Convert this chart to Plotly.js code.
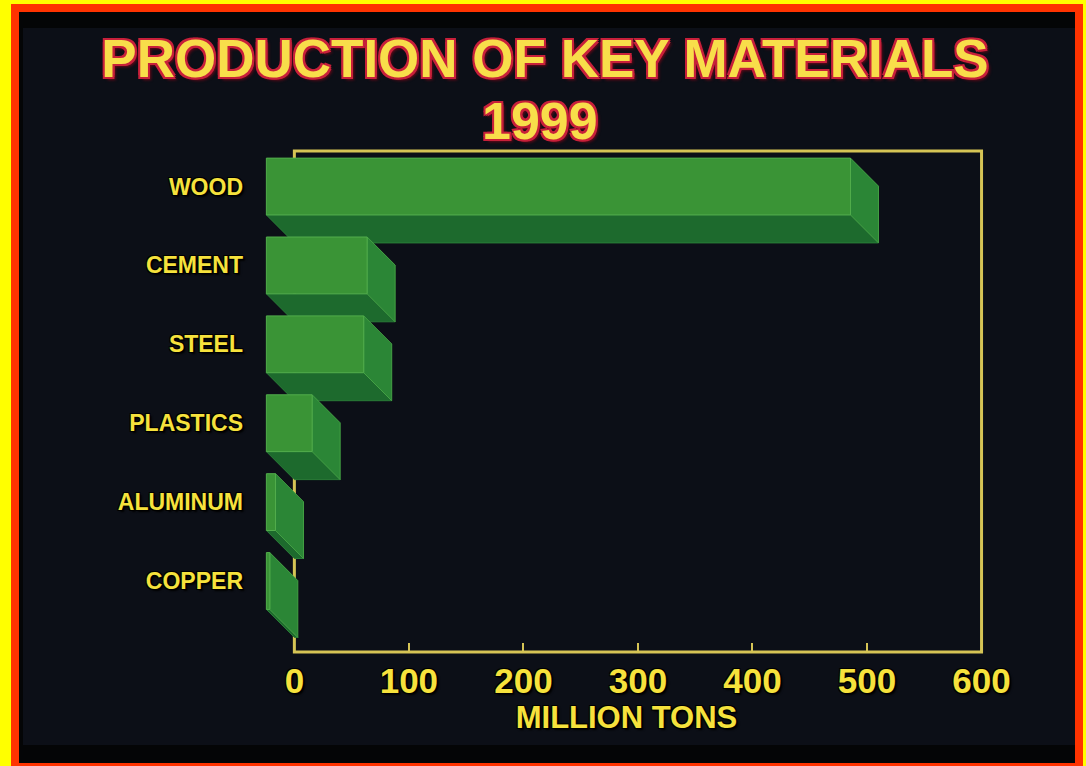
<!DOCTYPE html>
<html><head><meta charset="utf-8">
<script src="https://cdn.plot.ly/plotly-3.0.1.min.js"></script>
<style>html,body{margin:0;padding:0;background:#0b0e15;} #chart{width:1086px;height:766px;}</style>
</head><body><div id="chart"></div>
<script>
// ---- data ----
const categories = ['WOOD', 'CEMENT', 'STEEL', 'PLASTICS', 'ALUMINUM', 'COPPER'];
const values = [510, 88, 85, 40, 8, 3];          // million tons, 1999
const xTicks = [0, 100, 200, 300, 400, 500, 600];
const xTickLabels = ['0', '100', '200', '300', '400', '500', '600'];
const titleText = 'PRODUCTION OF KEY MATERIALS';
const yearText = '1999';
const xTitleText = 'MILLION TONS';

// ---- geometry / style ----
const W = 1086, H = 766, ML = 260, MR = 93, MT = 145, MB = 108;
const X_RANGE = [-30, 610];
const Y_RANGE = [5.621, -0.881];
const pw = W - ML - MR, ph = H - MT - MB;
const pxPerX = pw / (X_RANGE[1] - X_RANGE[0]);
const pxPerY = ph / (Y_RANGE[0] - Y_RANGE[1]);
const DEPTH_X = 28 / pxPerX, DEPTH_Y = 28 / pxPerY, HALF = 0.36;
const FRAME_TOP = -0.805, FRAME_BOTTOM = 5.545;
const px2x = p => (p - ML) / pw;
const py2y = p => 1 - (p - MT) / ph;

const YELLOW = '#f6e23c';
const OUTLINE = '1px 1px 0 #000, -1px -1px 0 #000, 1px -1px 0 #000, -1px 1px 0 #000, 2px 2px 2px #000';
const RED_OUTLINE = '2px 2px 0 #c8203a, -2px -2px 0 #c8203a, 2px -2px 0 #c8203a, -2px 2px 0 #c8203a, 0 2px 0 #c8203a, 2px 0 0 #c8203a, 3px 3px 3px #6a0818';
const BOLD = '"Liberation Sans", Arial, sans-serif';

// ---- build bar faces from the data ----
const bottom = {x: [], y: []}, side = {x: [], y: []}, front = {x: [], y: []};
function addPoly(store, pts) {
  pts.concat([pts[0]]).forEach(p => { store.x.push(p[0]); store.y.push(p[1]); });
  store.x.push(null); store.y.push(null);
}
categories.forEach((c, i) => {
  const v = values[i];
  const yb0 = i - HALF, yb1 = i + HALF;
  const yf0 = yb0 - DEPTH_Y, yf1 = yb1 - DEPTH_Y;
  const xf0 = -DEPTH_X, xf1 = v - DEPTH_X;
  addPoly(bottom, [[xf0, yf1], [xf1, yf1], [v, yb1], [0, yb1]]);
  addPoly(side, [[xf1, yf0], [v, yb0], [v, yb1], [xf1, yf1]]);
  addPoly(front, [[xf0, yf0], [xf1, yf0], [xf1, yf1], [xf0, yf1]]);
});

const faceTrace = (d, fill, line) => ({
  type: 'scatter', mode: 'lines', x: d.x, y: d.y, fill: 'toself',
  fillcolor: fill, line: {color: line, width: 1}, hoverinfo: 'skip', showlegend: false
});
const data = [
  faceTrace(bottom, '#1d6a2d', '#2a7d38'),
  faceTrace(side, '#2b8636', '#44a044'),
  faceTrace(front, '#3a9436', '#52ad4c')
];

const layout = {
  width: W, height: H,
  margin: {l: ML, r: MR, t: MT, b: MB},
  paper_bgcolor: '#ffff00',
  plot_bgcolor: 'rgba(0,0,0,0)',
  showlegend: false,
  title: {
    text: titleText, x: 545 / W, xanchor: 'center',
    y: 1 - 58 / H, yanchor: 'middle', yref: 'container',
    font: {family: BOLD, size: 53, color: '#f8de4a', weight: 'bold', shadow: RED_OUTLINE}
  },
  annotations: [{
    text: yearText, xref: 'paper', yref: 'paper', x: px2x(540), y: py2y(121),
    xanchor: 'center', yanchor: 'middle', showarrow: false,
    font: {family: BOLD, size: 52, color: '#f8de4a', weight: 'bold', shadow: RED_OUTLINE}
  }],
  xaxis: {
    range: X_RANGE, anchor: 'free', position: (658 - 652) / ph,
    tickvals: xTicks, ticktext: xTickLabels,
    ticks: 'inside', ticklen: 9, tickwidth: 2, tickcolor: '#d6c455',
    showgrid: false, zeroline: false, showline: false,
    ticklabelstandoff: 5,
    tickfont: {family: BOLD, size: 35, color: YELLOW, weight: 'bold', shadow: OUTLINE},
    title: {text: xTitleText, standoff: 3,
      font: {family: BOLD, size: 31, color: YELLOW, weight: 'bold', shadow: OUTLINE}}
  },
  yaxis: {
    range: Y_RANGE, tickvals: categories.map((c, i) => i - DEPTH_Y), ticktext: categories,
    ticks: '', showgrid: false, zeroline: false, showline: false, ticklabelstandoff: 16,
    tickfont: {family: BOLD, size: 23, color: YELLOW, weight: 'bold', shadow: OUTLINE}
  },
  shapes: [
    {type: 'rect', xref: 'paper', yref: 'paper', layer: 'below', x0: px2x(11), x1: px2x(1083), y0: py2y(4), y1: py2y(770),
      fillcolor: '#ff3300', line: {width: 0}},
    {type: 'rect', xref: 'paper', yref: 'paper', layer: 'below', x0: px2x(19), x1: px2x(1075), y0: py2y(12), y1: py2y(763),
      fillcolor: '#040506', line: {width: 0}},
    {type: 'rect', xref: 'paper', yref: 'paper', layer: 'below', x0: px2x(23), x1: px2x(1075), y0: py2y(28), y1: py2y(745),
      fillcolor: '#0c0f17', line: {width: 0}},
    {type: 'rect', xref: 'x', yref: 'y', layer: 'below', x0: 0, x1: 600, y0: FRAME_TOP, y1: FRAME_BOTTOM,
      line: {color: '#d6c455', width: 3}}
  ]
};

Plotly.newPlot('chart', data, layout, {displayModeBar: false, staticPlot: true});
</script></body></html>
